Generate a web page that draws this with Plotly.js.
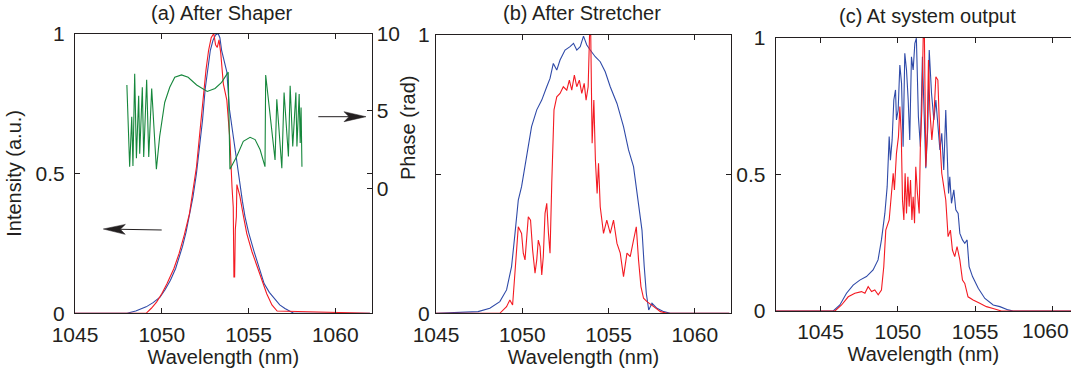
<!DOCTYPE html>
<html>
<head>
<meta charset="utf-8">
<script src="https://cdn.plot.ly/plotly-3.0.1.min.js"></script>
<style>html,body{margin:0;padding:0;background:#fff;}#chart{width:1071px;height:374px;}</style>
</head>
<body>
<div id="chart"></div>
<script>
// ---------- Panel (a) After Shaper ----------
const lamA_blue = [1045, 1048.0, 1048.5, 1049.1, 1049.5, 1049.9, 1050.2, 1050.5, 1050.8, 1051.0, 1051.2, 1051.4, 1051.6, 1051.8, 1052.0, 1052.2, 1052.35, 1052.5, 1052.65, 1052.8, 1052.95, 1053.1, 1053.25, 1053.35, 1053.45, 1053.6, 1053.75, 1053.9, 1054.05, 1054.2, 1054.35, 1054.5, 1054.65, 1054.8, 1055.0, 1055.3, 1055.6, 1055.9, 1056.2, 1056.5, 1056.8, 1057.1, 1057.6, 1062];
const intA_blue = [0, 0, 0.008, 0.023, 0.038, 0.058, 0.085, 0.118, 0.16, 0.2, 0.24, 0.29, 0.35, 0.416, 0.5, 0.607, 0.69, 0.80, 0.87, 0.94, 0.975, 0.995, 1.0, 0.985, 0.94, 0.90, 0.863, 0.73, 0.66, 0.607, 0.53, 0.452, 0.40, 0.345, 0.29, 0.225, 0.165, 0.106, 0.075, 0.053, 0.03, 0.017, 0, 0];
const lamA_red = [1045, 1049.1, 1049.4, 1049.7, 1050.0, 1050.3, 1050.7, 1051.0, 1051.3, 1051.6, 1051.8, 1052.0, 1052.2, 1052.4, 1052.55, 1052.7, 1052.85, 1053.0, 1053.1, 1053.2, 1053.3, 1053.4, 1053.55, 1053.75, 1053.93, 1054.05, 1054.12, 1054.16, 1054.2, 1054.24, 1054.3, 1054.33, 1054.5, 1054.7, 1054.9, 1055.2, 1055.5, 1055.8, 1056.05, 1056.35, 1056.65, 1062];
const intA_red = [0, 0, 0.018, 0.04, 0.07, 0.106, 0.16, 0.214, 0.28, 0.357, 0.44, 0.523, 0.65, 0.786, 0.87, 0.94, 0.985, 1.0, 0.96, 0.95, 0.977, 0.93, 0.82, 0.762, 0.619, 0.45, 0.38, 0.13, 0.13, 0.30, 0.345, 0.46, 0.42, 0.35, 0.285, 0.22, 0.166, 0.11, 0.07, 0.03, 0.008, 0];
const lamA_phase = [1047.99, 1048.15, 1048.27, 1048.34, 1048.44, 1048.54, 1048.67, 1048.73, 1048.88, 1048.96, 1049.13, 1049.25, 1049.42, 1049.69, 1049.88, 1050.17, 1050.46, 1050.75, 1051.14, 1051.52, 1052.01, 1052.62, 1053.07, 1053.45, 1053.83, 1053.93, 1054.32, 1054.70, 1055.09, 1055.38, 1055.67, 1055.95, 1055.99, 1056.53, 1056.63, 1056.92, 1057.05, 1057.30, 1057.40, 1057.55, 1057.73, 1057.79, 1057.92, 1057.98, 1058.03, 1058.08];
const phaseA = [6.67, 1.39, 4.62, 1.44, 7.39, 1.94, 5.97, 2.22, 6.52, 2.01, 7.01, 2.01, 6.45, 1.22, 3.35, 5.54, 6.52, 7.17, 7.32, 7.17, 6.67, 6.25, 6.45, 6.84, 7.50, 1.22, 2.05, 3.03, 3.29, 3.14, 2.48, 1.39, 7.32, 1.83, 5.75, 1.29, 6.19, 2.05, 6.62, 2.70, 6.19, 2.70, 6.08, 2.92, 5.21, 1.39];

// ---------- Panel (b) After Stretcher ----------
const lamB_blue = [1045, 1047.44, 1048.12, 1048.70, 1049.09, 1049.38, 1049.58, 1049.77, 1049.96, 1050.16, 1050.35, 1050.54, 1050.84, 1051.13, 1051.42, 1051.61, 1051.80, 1052.0, 1052.19, 1052.48, 1052.77, 1052.97, 1053.16, 1053.36, 1053.55, 1053.74, 1053.94, 1054.23, 1054.52, 1054.81, 1055.10, 1055.49, 1055.87, 1056.16, 1056.45, 1056.74, 1056.94, 1057.07, 1057.19, 1057.33, 1057.52, 1057.81, 1058.20, 1058.58, 1062];
const intB_blue = [0, 0.006, 0.018, 0.042, 0.084, 0.168, 0.287, 0.407, 0.455, 0.527, 0.611, 0.671, 0.731, 0.766, 0.814, 0.844, 0.898, 0.874, 0.910, 0.946, 0.958, 0.97, 0.946, 0.958, 0.996, 0.964, 0.946, 0.922, 0.904, 0.868, 0.814, 0.754, 0.671, 0.587, 0.527, 0.395, 0.299, 0.168, 0.072, 0.012, 0.036, 0.018, 0.006, 0, 0];
const lamB_red = [1045, 1048.70, 1049.09, 1049.28, 1049.44, 1049.52, 1049.63, 1049.77, 1049.96, 1050.06, 1050.16, 1050.25, 1050.35, 1050.48, 1050.60, 1050.74, 1050.84, 1050.93, 1051.03, 1051.13, 1051.22, 1051.32, 1051.42, 1051.52, 1051.61, 1051.71, 1051.77, 1051.84, 1052.0, 1052.19, 1052.38, 1052.58, 1052.73, 1052.87, 1053.02, 1053.16, 1053.31, 1053.45, 1053.59, 1053.70, 1053.82, 1053.90, 1053.97, 1054.05, 1054.15, 1054.24, 1054.34, 1054.42, 1054.52, 1054.71, 1054.90, 1055.10, 1055.29, 1055.49, 1055.68, 1055.87, 1056.07, 1056.26, 1056.45, 1056.61, 1056.74, 1056.88, 1057.03, 1057.23, 1057.62, 1058.01, 1058.39, 1062];
const intB_red = [0, 0, 0.024, 0.048, 0.03, 0.096, 0.216, 0.311, 0.287, 0.216, 0.192, 0.287, 0.347, 0.335, 0.228, 0.144, 0.192, 0.263, 0.24, 0.138, 0.204, 0.359, 0.395, 0.287, 0.216, 0.467, 0.623, 0.731, 0.778, 0.790, 0.814, 0.802, 0.838, 0.802, 0.856, 0.814, 0.838, 0.790, 0.826, 0.766, 0.814, 1.0, 1.0, 0.611, 0.766, 0.551, 0.431, 0.539, 0.383, 0.287, 0.335, 0.287, 0.335, 0.251, 0.216, 0.132, 0.216, 0.204, 0.263, 0.311, 0.192, 0.096, 0.054, 0.042, 0.024, 0.006, 0, 0];

// ---------- Panel (c) At system output ----------
const lamC_blue = [1042, 1045.82, 1046.25, 1046.68, 1047.11, 1047.54, 1047.97, 1048.40, 1048.72, 1048.94, 1049.16, 1049.31, 1049.44, 1049.52, 1049.63, 1049.74, 1049.85, 1049.91, 1050.02, 1050.13, 1050.24, 1050.34, 1050.45, 1050.56, 1050.67, 1050.77, 1050.88, 1050.99, 1051.10, 1051.20, 1051.33, 1051.46, 1051.59, 1051.72, 1051.81, 1051.94, 1052.03, 1052.18, 1052.33, 1052.46, 1052.59, 1052.72, 1052.84, 1052.97, 1053.10, 1053.19, 1053.28, 1053.36, 1053.47, 1053.62, 1053.75, 1053.90, 1054.01, 1054.18, 1054.33, 1054.48, 1054.61, 1054.83, 1055.20, 1055.63, 1056.17, 1056.60, 1057.14, 1057.46, 1062];
const intC_blue = [0, 0, 0.022, 0.065, 0.095, 0.113, 0.126, 0.15, 0.187, 0.26, 0.357, 0.455, 0.638, 0.552, 0.626, 0.772, 0.809, 0.699, 0.735, 0.90, 0.833, 0.601, 0.943, 0.882, 0.772, 0.626, 0.93, 0.882, 0.979, 0.998, 0.711, 0.601, 0.93, 0.687, 0.522, 0.674, 0.955, 0.796, 0.699, 0.772, 0.662, 0.589, 0.65, 0.516, 0.735, 0.601, 0.43, 0.491, 0.394, 0.443, 0.37, 0.357, 0.284, 0.26, 0.248, 0.26, 0.162, 0.126, 0.083, 0.046, 0.022, 0.016, 0.004, 0, 0];
const lamC_red = [1042, 1045.93, 1046.36, 1046.79, 1047.22, 1047.65, 1047.87, 1048.08, 1048.30, 1048.51, 1048.73, 1048.94, 1049.09, 1049.22, 1049.44, 1049.57, 1049.70, 1049.78, 1049.91, 1050.04, 1050.13, 1050.22, 1050.30, 1050.39, 1050.47, 1050.56, 1050.65, 1050.73, 1050.82, 1050.91, 1050.99, 1051.08, 1051.16, 1051.27, 1051.38, 1051.46, 1051.55, 1051.64, 1051.72, 1051.81, 1051.90, 1051.98, 1052.07, 1052.20, 1052.33, 1052.46, 1052.59, 1052.72, 1052.84, 1052.97, 1053.10, 1053.25, 1053.40, 1053.53, 1053.68, 1053.83, 1054.01, 1054.18, 1054.33, 1054.54, 1054.87, 1055.30, 1055.73, 1056.16, 1056.70, 1062];
const intC_red = [0, 0, 0.022, 0.052, 0.065, 0.071, 0.065, 0.089, 0.071, 0.077, 0.059, 0.077, 0.162, 0.296, 0.333, 0.43, 0.504, 0.443, 0.577, 0.638, 0.748, 0.65, 0.406, 0.333, 0.504, 0.357, 0.491, 0.382, 0.479, 0.333, 0.418, 0.321, 0.528, 0.43, 0.357, 0.613, 0.735, 0.998, 0.998, 0.528, 0.65, 0.918, 0.735, 0.626, 0.711, 0.857, 0.845, 0.626, 0.504, 0.455, 0.406, 0.272, 0.296, 0.223, 0.199, 0.236, 0.187, 0.113, 0.101, 0.052, 0.04, 0.028, 0.016, 0.009, 0, 0];

// ---------- Text ----------
const panelTitles = ['(a) After Shaper', '(b) After Stretcher', '(c) At system output'];
const xTitle = 'Wavelength (nm)';
const yTitleLeft = 'Intensity (a.u.)';
const yTitleRight = 'Phase (rad)';
const xTickVals = [1045, 1050, 1055, 1060];
const xTickText = ['1045', '1050', '1055', '1060'];
const xTickTextC = ['1045', '1050', '1055', ''];   // last label of (c) sits at the page edge, drawn separately
const phaseTickVals = [0, 5, 10];

const W = 1071, H = 374;
const BLUE = '#2f4aa8', RED = '#f41a22', GREEN = '#16873c', INK = '#231f20';
const FONT = 'Liberation Sans, Arial, Helvetica, sans-serif';

function px(x) { return x / W; }
function py(y) { return 1 - y / H; }
function P(x, y) { return px(x).toFixed(5) + ',' + py(y).toFixed(5); }

// arrow glyph (shaft + stealth head), built in pixel space then mapped to paper
function arrowPath(tipX, tipY, tailX, tailY) {
  const dx = tailX - tipX, dy = tailY - tipY;
  const L = Math.hypot(dx, dy), ux = dx / L, uy = dy / L, nx = -uy, ny = ux;
  const headL = 22, notch = 17, half = 5;
  const b1 = [tipX + ux * headL + nx * half, tipY + uy * headL + ny * half];
  const b2 = [tipX + ux * headL - nx * half, tipY + uy * headL - ny * half];
  const nt = [tipX + ux * notch, tipY + uy * notch];
  return {
    head: 'M' + P(tipX, tipY) + ' L' + P(b1[0], b1[1]) + ' L' + P(nt[0], nt[1]) + ' L' + P(b2[0], b2[1]) + ' Z',
    shaft: 'M' + P(nt[0], nt[1]) + ' L' + P(tailX, tailY)
  };
}

const line = (c) => ({ color: c, width: 1.1 });

const traces = [
  { x: lamA_blue, y: intA_blue, xaxis: 'x', yaxis: 'y', mode: 'lines', line: line(BLUE), name: 'blue a' },
  { x: lamA_red, y: intA_red, xaxis: 'x', yaxis: 'y', mode: 'lines', line: line(RED), name: 'red a' },
  { x: lamA_phase, y: phaseA, xaxis: 'x', yaxis: 'y2', mode: 'lines', line: line(GREEN), name: 'phase' },
  { x: lamB_blue, y: intB_blue, xaxis: 'x2', yaxis: 'y3', mode: 'lines', line: line(BLUE), name: 'blue b' },
  { x: lamB_red, y: intB_red, xaxis: 'x2', yaxis: 'y3', mode: 'lines', line: line(RED), name: 'red b' },
  { x: lamC_blue, y: intC_blue, xaxis: 'x3', yaxis: 'y4', mode: 'lines', line: line(BLUE), name: 'blue c' },
  { x: lamC_red, y: intC_red, xaxis: 'x3', yaxis: 'y4', mode: 'lines', line: line(RED), name: 'red c' }
];

const tickFont = { family: FONT, size: 21, color: INK };
const titleFont = { family: FONT, size: 20, color: INK };
function axBase(extra) {
  return Object.assign({
    showline: true, linecolor: INK, linewidth: 1, mirror: 'ticks',
    ticks: 'inside', ticklen: 5, tickwidth: 1, tickcolor: INK,
    showgrid: false, zeroline: false, tickfont: tickFont, fixedrange: true
  }, extra);
}

const arrL = arrowPath(103.3, 229, 161.7, 230);
const arrR = arrowPath(366, 116.7, 318.3, 116.7);
const arrowShapes = [arrL, arrR].flatMap(a => [
  { type: 'path', xref: 'paper', yref: 'paper', path: a.shaft, line: { color: INK, width: 1 } },
  { type: 'path', xref: 'paper', yref: 'paper', path: a.head, fillcolor: INK, line: { color: INK, width: 0.5 } }
]);

const layout = {
  width: W, height: H,
  margin: { l: 0, r: 0, t: 0, b: 0 },
  paper_bgcolor: '#fff', plot_bgcolor: '#fff',
  showlegend: false,
  font: { family: FONT, size: 20, color: INK },
  xaxis: axBase({ domain: [px(75), px(371.7)], range: [1045, 1062.1], anchor: 'y',
    tickvals: xTickVals, ticktext: xTickText, ticklabelstandoff: 2,
    title: { text: xTitle, font: titleFont, standoff: 3 } }),
  yaxis: axBase({ domain: [py(313.3), py(33.5)], range: [0, 1], anchor: 'x',
    tickvals: [0, 0.5, 1], ticktext: ['0', '0.5', '1'], ticklabelstandoff: 5,
    title: { text: yTitleLeft, font: titleFont, standoff: 8 } }),
  yaxis2: axBase({ overlaying: 'y', side: 'right', anchor: 'x', range: [-8.09, 10.0],
    tickvals: phaseTickVals, ticktext: ['0', '5', '10'], mirror: false, showline: false, ticklabelstandoff: 4 }),
  xaxis2: axBase({ domain: [px(436), px(731)], range: [1045, 1062.1], anchor: 'y3',
    tickvals: xTickVals, ticktext: xTickText, ticklabelstandoff: 2,
    title: { text: xTitle, font: titleFont, standoff: 3 } }),
  yaxis3: axBase({ domain: [py(313.3), py(35)], range: [0, 1], anchor: 'x2',
    tickvals: [0, 0.5, 1], ticktext: ['0', '', '1'], ticklabelstandoff: 1 }),
  xaxis3: axBase({ domain: [px(775.7), 1], range: [1042.1, 1061.2], anchor: 'y4',
    tickvals: xTickVals, ticktext: xTickTextC, ticklabelstandoff: 2,
    title: { text: xTitle, font: titleFont, standoff: 3 } }),
  yaxis4: axBase({ domain: [py(311), py(37.7)], range: [0, 1], anchor: 'x3', mirror: false,
    tickvals: [0, 0.5, 1], ticktext: ['0', '0.5', '1'], ticklabelstandoff: 5 }),
  shapes: arrowShapes,
  annotations: [
    { text: panelTitles[0], xref: 'paper', yref: 'paper', x: px(222), y: py(13), xanchor: 'center', yanchor: 'middle', showarrow: false, font: titleFont },
    { text: panelTitles[1], xref: 'paper', yref: 'paper', x: px(582), y: py(13), xanchor: 'center', yanchor: 'middle', showarrow: false, font: titleFont },
    { text: panelTitles[2], xref: 'paper', yref: 'paper', x: px(927), y: py(16), xanchor: 'center', yanchor: 'middle', showarrow: false, font: titleFont },
    { text: yTitleRight, xref: 'paper', yref: 'paper', x: px(408), y: py(128), xanchor: 'center', yanchor: 'middle', textangle: -90, showarrow: false, font: titleFont },
    { text: xTickText[3], xref: 'paper', yref: 'paper', x: px(1070), y: py(330), xanchor: 'right', yanchor: 'middle', showarrow: false, font: tickFont, borderpad: 0 }
  ]
};

Plotly.newPlot('chart', traces, layout, { displayModeBar: false, staticPlot: true });
</script>
</body>
</html>
